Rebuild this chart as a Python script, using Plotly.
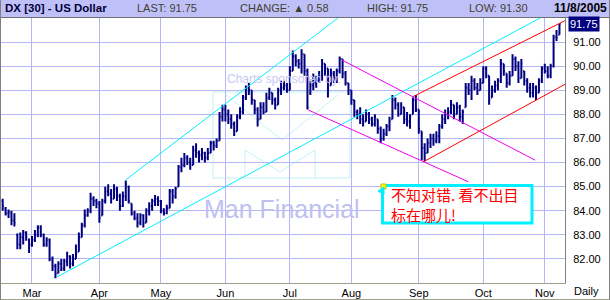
import pandas as pd
import plotly.graph_objects as go

# ---------------- data ----------------
dates = pd.bdate_range("2005-02-15", "2005-11-08")

opens = [
    84.40, 84.10, 83.90, 83.90, 83.60, 83.00, 82.60, 82.90, 83.10, 82.80,
    82.60, 82.80, 83.00, 83.30, 83.00, 82.60, 82.80, 82.00, 81.70, 81.40, 81.80, 81.60, 81.90, 82.10, 81.80, 82.00, 82.30, 82.90, 83.40, 83.80, 84.00, 84.50, 84.40,
    84.30, 83.80, 84.40, 84.80, 84.70, 84.50, 84.90, 84.60, 84.20, 84.60, 85.00, 84.30, 83.90, 83.70, 83.50, 83.80, 83.50, 84.00, 84.20, 84.40, 84.50,
    84.40, 84.00, 83.90, 84.10, 84.80, 84.60, 85.00, 85.80, 85.90, 86.20, 86.00, 85.90, 86.50, 86.40, 86.30, 86.40, 86.20, 86.40, 86.80, 86.70, 86.90, 87.90,
    88.20, 88.00, 87.80, 87.60, 87.30, 87.90, 88.10, 88.70, 89.10, 89.00, 88.60, 88.20, 87.80, 88.30, 88.10, 88.70, 88.90, 88.60, 88.40, 89.00, 89.10, 89.20,
    89.00, 89.80, 90.40, 90.20, 90.10, 90.50, 89.80, 88.90, 89.20, 89.30, 89.40, 89.60, 90.10, 89.90, 89.20, 89.70, 89.50, 89.80, 90.30, 89.70, 89.30,
    89.00, 88.60, 88.10, 88.00, 87.80, 87.70, 88.00, 87.80, 87.60, 87.80, 87.40, 87.00, 87.20, 87.50, 87.80, 88.60, 88.40, 88.00, 88.30, 87.80, 87.70, 88.00, 88.60,
    88.20, 87.30, 86.60, 86.40, 86.80, 87.00, 86.90, 87.10, 87.50, 87.80, 88.00, 88.10, 88.40, 88.00, 88.30, 87.90, 88.30, 89.10, 89.00, 89.40, 89.10, 89.00,
    89.30, 89.90, 89.60, 88.70, 89.00, 89.20, 89.40, 90.10, 89.70, 89.30, 89.60, 90.30, 90.00, 89.50, 89.80, 89.40, 89.10, 88.90, 89.10, 88.90, 89.40,
    89.90, 89.80, 89.60, 90.00, 91.20, 91.30,
]
highs = [
    84.50, 84.15, 84.05, 84.00, 83.90, 83.05, 83.10, 83.20, 83.15, 82.85,
    82.95, 83.20, 83.40, 83.40, 83.05, 82.90, 82.85, 82.10, 81.80, 81.90, 82.00, 82.00, 82.30, 82.15, 82.20, 82.60, 83.10, 83.50, 84.05, 84.10, 84.75, 84.60, 84.50,
    84.40, 84.50, 85.00, 85.10, 84.90, 85.10, 85.00, 84.70, 84.80, 85.25, 85.05, 84.30, 84.00, 83.90, 83.90, 83.85, 84.10, 84.35, 84.50, 84.65, 84.60,
    84.45, 84.10, 84.25, 84.90, 84.90, 85.00, 85.90, 86.20, 86.40, 86.30, 86.20, 86.70, 86.80, 86.50, 86.60, 86.45, 86.60, 86.90, 86.90, 87.00, 88.10, 88.40,
    88.40, 88.20, 88.00, 87.70, 88.00, 88.30, 88.80, 89.20, 89.30, 89.00, 88.60, 88.30, 88.50, 88.50, 88.90, 89.10, 88.90, 88.70, 89.10, 89.40, 89.40, 89.30,
    90.00, 90.65, 90.50, 90.30, 90.70, 90.50, 89.90, 89.40, 89.70, 89.60, 89.80, 90.30, 90.10, 89.90, 89.90, 89.80, 89.90, 90.40, 90.30, 89.80, 89.30,
    89.00, 88.60, 88.20, 88.30, 88.00, 88.20, 88.10, 87.90, 88.00, 87.80, 87.50, 87.40, 87.60, 87.90, 88.80, 88.70, 88.50, 88.50, 88.30, 88.10, 88.00, 88.70, 88.80,
    88.20, 87.30, 86.80, 87.00, 87.20, 87.20, 87.30, 87.60, 88.00, 88.20, 88.30, 88.60, 88.40, 88.50, 88.40, 88.20, 89.30, 89.30, 89.60, 89.50, 89.30, 89.50,
    90.00, 90.00, 89.60, 89.20, 89.40, 89.50, 90.30, 90.10, 89.70, 89.80, 90.50, 90.40, 90.20, 90.30, 89.80, 89.50, 89.30, 89.30, 89.20, 89.50, 90.00,
    90.10, 90.00, 90.10, 91.30, 91.50, 91.75,
]
lows = [
    84.00, 83.80, 83.70, 83.40, 83.35, 82.40, 82.40, 82.60, 82.75, 82.25,
    82.50, 82.70, 82.90, 82.90, 82.50, 82.50, 81.90, 81.50, 81.20, 81.40, 81.50, 81.50, 81.70, 81.60, 81.70, 82.00, 82.30, 82.90, 83.30, 83.75, 83.90, 84.20, 84.10,
    83.50, 83.80, 84.30, 84.60, 84.30, 84.50, 84.40, 84.00, 84.15, 84.40, 84.30, 83.80, 83.60, 83.30, 83.40, 83.30, 83.50, 83.80, 84.00, 84.20, 84.20,
    83.90, 83.80, 83.85, 84.10, 84.30, 84.50, 85.00, 85.60, 85.80, 85.90, 85.70, 85.90, 86.20, 86.00, 86.10, 86.00, 86.10, 86.40, 86.50, 86.60, 86.90, 87.70,
    87.70, 87.60, 87.40, 87.10, 87.30, 87.80, 88.00, 88.60, 88.80, 88.40, 88.00, 87.50, 87.80, 88.00, 88.10, 88.60, 88.40, 88.20, 88.40, 88.80, 89.00, 88.90,
    89.00, 89.80, 90.00, 89.90, 89.70, 89.60, 88.20, 88.80, 89.00, 89.10, 89.30, 89.40, 89.60, 88.70, 89.20, 89.30, 89.30, 89.70, 89.50, 89.20, 88.80,
    88.40, 87.90, 87.80, 87.60, 87.50, 87.70, 87.60, 87.50, 87.50, 87.20, 86.80, 86.90, 87.10, 87.30, 87.80, 88.20, 87.90, 88.00, 87.60, 87.50, 87.40, 88.00, 88.10,
    87.20, 86.10, 86.05, 86.40, 86.60, 86.70, 86.80, 86.80, 87.40, 87.60, 87.80, 88.00, 87.80, 88.00, 87.70, 87.60, 88.30, 88.80, 88.60, 89.00, 88.80, 89.00,
    89.30, 89.50, 88.40, 88.70, 88.90, 89.00, 89.30, 89.60, 89.10, 89.20, 89.60, 89.80, 89.30, 89.50, 89.20, 88.90, 88.70, 88.70, 88.60, 88.90, 89.30,
    89.70, 89.50, 89.50, 89.95, 91.05, 91.30,
]
closes = [
    84.20, 83.90, 83.95, 83.60, 83.50, 82.60, 82.90, 83.10, 82.90, 82.60,
    82.80, 83.00, 83.30, 83.00, 82.60, 82.80, 82.00, 81.70, 81.40, 81.80, 81.60, 81.90, 82.10, 81.80, 82.00, 82.20, 82.90, 83.40, 83.80, 84.00, 84.50, 84.40, 84.30,
    83.70, 84.40, 84.80, 84.70, 84.50, 84.90, 84.60, 84.20, 84.60, 85.10, 84.40, 83.90, 83.70, 83.50, 83.80, 83.50, 84.00, 84.20, 84.40, 84.50, 84.40,
    84.00, 83.90, 84.10, 84.80, 84.60, 84.90, 85.80, 85.90, 86.20, 86.00, 85.90, 86.50, 86.40, 86.30, 86.40, 86.20, 86.40, 86.80, 86.70, 86.90, 87.90, 88.20,
    88.00, 87.80, 87.60, 87.30, 87.90, 88.10, 88.70, 89.10, 89.00, 88.60, 88.20, 87.80, 88.30, 88.10, 88.70, 88.90, 88.60, 88.40, 89.00, 89.10, 89.20, 89.00,
    89.80, 90.40, 90.20, 90.10, 90.50, 89.80, 88.30, 89.20, 89.30, 89.40, 89.60, 90.10, 89.90, 89.00, 89.70, 89.50, 89.80, 90.30, 89.70, 89.30, 89.00,
    88.60, 88.10, 88.00, 87.80, 87.70, 88.00, 87.80, 87.60, 87.90, 87.40, 87.00, 87.20, 87.50, 87.70, 88.60, 88.40, 88.00, 88.30, 87.80, 87.70, 87.90, 88.60, 88.20,
    87.40, 86.60, 86.40, 86.80, 87.00, 86.90, 87.10, 87.50, 87.80, 88.00, 88.10, 88.40, 88.00, 88.30, 87.90, 88.10, 89.10, 89.00, 89.40, 89.10, 89.00, 89.30,
    89.90, 89.60, 88.60, 89.00, 89.20, 89.40, 90.10, 89.80, 89.30, 89.60, 90.30, 90.00, 89.50, 90.10, 89.40, 89.10, 88.90, 89.10, 88.90, 89.40, 89.90,
    89.80, 89.60, 90.00, 91.20, 91.17, 91.75,
]

month_ticks = ["2005-03-01", "2005-04-01", "2005-05-02", "2005-06-01", "2005-07-01",
               "2005-08-01", "2005-09-01", "2005-10-03", "2005-11-01"]
month_labels = ["Mar", "Apr", "May", "Jun", "Jul", "Aug", "Sep", "Oct", "Nov"]
price_ticks = [82, 83, 84, 85, 86, 87, 88, 89, 90, 91]
price_labels = [f"{v:.2f}" for v in price_ticks]

# trend lines (start/end points)
cyan_low_x, cyan_low_y = ["2005-03-11 12:00", "2005-10-28 10:00"], [81.25, 92.0]
cyan_up_x, cyan_up_y = ["2005-04-14 02:00", "2005-07-25 10:00"], [85.29, 92.0]
mag_up_x, mag_up_y = ["2005-07-26 17:00", "2005-10-26 17:00"], [90.26, 86.10]
mag_low_x, mag_low_y = ["2005-07-11 07:00", "2005-09-23 22:00"], [88.18, 85.20]
red_up_x, red_up_y = ["2005-08-30 02:00", "2005-11-09 22:00"], [88.74, 91.89]
red_low_x, red_low_y = ["2005-09-02 14:00", "2005-11-09 22:00"], [86.03, 89.25]

last_price = 91.75
header_items = [
    ("DX [30] - US Dollar", 3, True, 11.5, "#000038"),
    ("LAST: 91.75", 135, False, 11, "#404030"),
    ("CHANGE: \u25b2 0.58", 238, False, 11, "#404030"),
    ("HIGH: 91.75", 365, False, 11, "#404030"),
    ("LOW: 91.30", 467, False, 11, "#404030"),
    ("11/8/2005", 552, True, 12, "#000000"),
]
note_text = "不知对错. 看不出目<br>标在哪儿!"

# ---------------- layout helpers (pixel -> paper) ----------------
W, H = 610, 300
ML, MR, MT, MB = 0, 45, 18, 17
PW, PH = W - ML - MR, H - MT - MB


def PX(x):
    return (x - ML) / PW


def PY(y):
    return (H - MB - y) / PH


GRID = "#b6b6f6"
NAVY = "#000080"

fig = go.Figure()
fig.add_trace(go.Ohlc(
    x=dates, open=opens, high=highs, low=lows, close=closes,
    increasing=dict(line=dict(color=NAVY, width=2)),
    decreasing=dict(line=dict(color=NAVY, width=2)),
    tickwidth=0.4, showlegend=False, hoverinfo="skip",
))

for xs, ys, col in [
    (cyan_low_x, cyan_low_y, "#00f0ff"),
    (cyan_up_x, cyan_up_y, "#00f0ff"),
    (mag_up_x, mag_up_y, "#f000f0"),
    (mag_low_x, mag_low_y, "#f000f0"),
    (red_up_x, red_up_y, "#ff0000"),
    (red_low_x, red_low_y, "#ff0000"),
]:
    fig.add_trace(go.Scatter(x=xs, y=ys, mode="lines", line=dict(color=col, width=1),
                             showlegend=False, hoverinfo="skip"))

shapes = []
# header
shapes.append(dict(type="rect", xref="paper", yref="paper", x0=PX(0), x1=PX(W), y0=PY(17), y1=PY(0),
                   fillcolor="#c0c0f8", line=dict(width=0), layer="above"))
shapes.append(dict(type="line", xref="paper", yref="paper", x0=PX(0), x1=PX(W), y0=PY(17.5), y1=PY(17.5),
                   line=dict(color="#707070", width=1), layer="above"))
# bottom line and frame
shapes.append(dict(type="line", xref="paper", yref="paper", x0=PX(0), x1=PX(W), y0=PY(299.5), y1=PY(299.5),
                   line=dict(color="#a0a090", width=1)))
shapes.append(dict(type="line", xref="paper", yref="paper", x0=PX(609.5), x1=PX(609.5), y0=PY(300), y1=PY(0),
                   line=dict(color="#808080", width=1)))
shapes.append(dict(type="line", xref="paper", yref="paper", x0=PX(0.5), x1=PX(0.5), y0=PY(300), y1=PY(0),
                   line=dict(color="#808080", width=1)))
# watermark logo
LC = "#c4f2f4"
shapes.append(dict(type="rect", xref="paper", yref="paper", x0=PX(213), x1=PX(350), y0=PY(178), y1=PY(92),
                   line=dict(color=LC, width=1), layer="between"))
shapes.append(dict(type="path", xref="paper", yref="paper",
                   path=f"M {PX(226)},{PY(95)} L {PX(282)},{PY(140)} L {PX(338)},{PY(95)}",
                   line=dict(color=LC, width=1), layer="between"))
shapes.append(dict(type="path", xref="paper", yref="paper",
                   path=(f"M {PX(245)},{PY(178)} L {PX(245)},{PY(150)} L {PX(280)},{PY(172)} "
                         f"L {PX(315)},{PY(150)} L {PX(315)},{PY(178)}"),
                   line=dict(color=LC, width=1), layer="between"))
# note box
shapes.append(dict(type="rect", xref="paper", yref="paper", x0=PX(382.5), x1=PX(532), y0=PY(223), y1=PY(185.5),
                   fillcolor="white", line=dict(color="#00f0ff", width=3), layer="above"))
shapes.append(dict(type="rect", xref="paper", yref="paper", x0=PX(381), x1=PX(386), y0=PY(189), y1=PY(184),
                   fillcolor="#ffff00", line=dict(color="#c0c000", width=1), layer="above"))
shapes.append(dict(type="path", xref="paper", yref="paper",
                   path=f"M {PX(378)},{PY(191)} L {PX(384)},{PY(187)} L {PX(384)},{PY(195)} Z",
                   fillcolor="#00f0ff", line=dict(color="#00f0ff", width=1), layer="above"))

annotations = []
for text, x, bold, size, col in header_items:
    annotations.append(dict(xref="paper", yref="paper", x=PX(x), y=PY(8.5), xanchor="left", yanchor="middle",
                            text=f"<b>{text}</b>" if bold else text, showarrow=False,
                            font=dict(family="Liberation Sans, Arial", size=size, color=col)))
annotations.append(dict(xref="paper", yref="y", x=1, y=last_price, xanchor="left", yanchor="middle",
                        xshift=3, text=f"{last_price:.2f}", showarrow=False, bgcolor=NAVY, borderpad=1,
                        font=dict(family="Liberation Sans, Arial", size=11, color="white")))
annotations.append(dict(xref="paper", yref="paper", x=PX(586), y=PY(291), xanchor="center", yanchor="middle",
                        text="Daily", showarrow=False,
                        font=dict(family="Liberation Sans, Arial", size=11, color="#000000")))
annotations.append(dict(xref="paper", yref="paper", x=PX(284), y=PY(79), xanchor="center", yanchor="middle",
                        text="Charts sponsored by:", showarrow=False,
                        font=dict(family="Liberation Sans, Arial", size=12, color="#c8c8f4")))
annotations.append(dict(xref="paper", yref="paper", x=PX(282), y=PY(209), xanchor="center", yanchor="middle",
                        text="Man Financial", showarrow=False,
                        font=dict(family="Liberation Sans, Arial", size=25, color="#c0c0f0")))
annotations.append(dict(xref="paper", yref="paper", x=PX(389), y=PY(204.5), xanchor="left",
                        yanchor="middle", align="left", text=note_text, showarrow=False,
                        font=dict(family="Noto Sans CJK SC", size=15, color="#ff0000")))

fig.update_layout(
    width=W, height=H, margin=dict(l=ML, r=MR, t=MT, b=MB),
    paper_bgcolor="white", plot_bgcolor="white",
    shapes=shapes, annotations=annotations, showlegend=False,
    xaxis=dict(
        type="date", range=["2005-02-14 02:00", "2005-11-09 21:30"],
        rangebreaks=[dict(bounds=["sat", "mon"])],
        rangeslider=dict(visible=False),
        tickmode="array", tickvals=month_ticks, ticktext=month_labels,
        showgrid=True, gridcolor=GRID, gridwidth=1, ticks="",
        showline=True, linecolor="#a0a090", linewidth=1, zeroline=False,
        tickfont=dict(family="Liberation Sans, Arial", size=11, color="#000000"),
    ),
    yaxis=dict(
        side="right", range=[81.0, 92.0],
        tickmode="array", tickvals=price_ticks, ticktext=price_labels,
        showgrid=True, gridcolor=GRID, gridwidth=1, ticks="", ticklabelstandoff=5,
        showline=True, linecolor="#808080", linewidth=1, zeroline=False,
        tickfont=dict(family="Liberation Sans, Arial", size=11, color="#000000"),
    ),
)

fig.write_html("out.html")
